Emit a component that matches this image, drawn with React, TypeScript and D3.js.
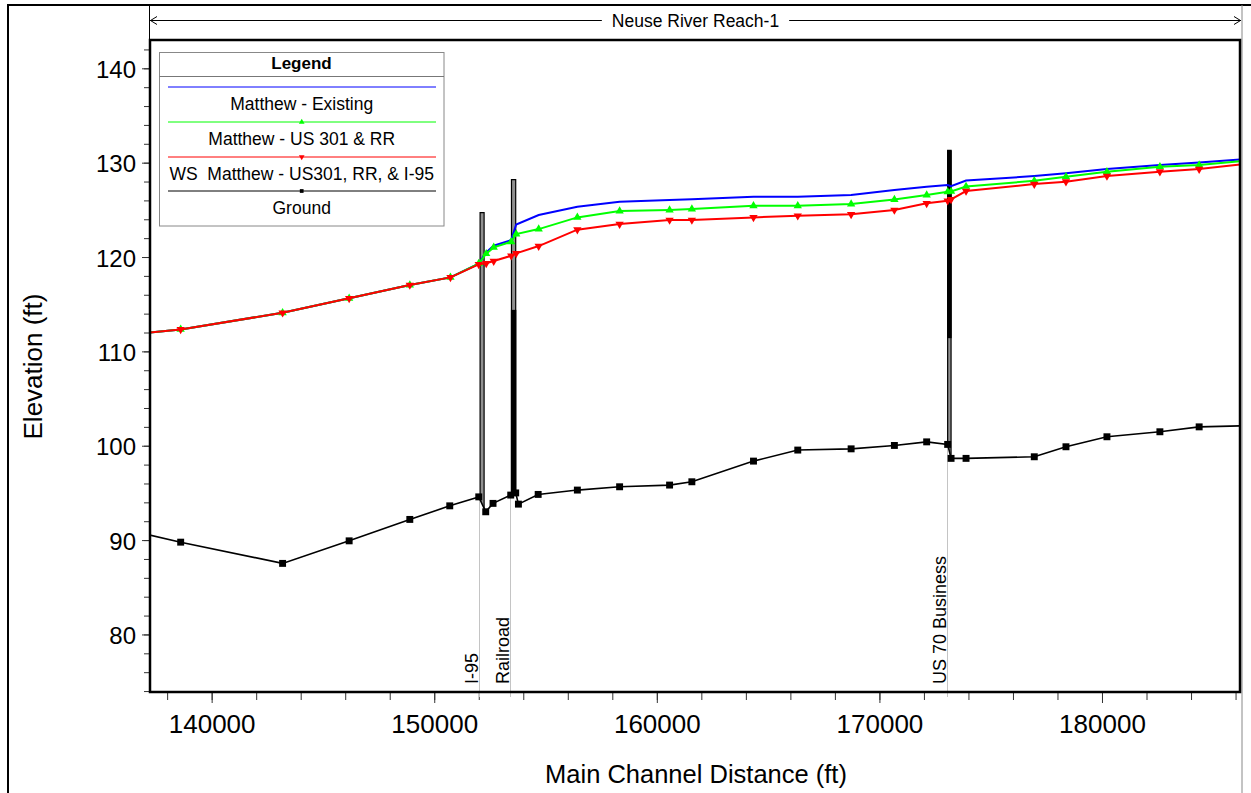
import React, { useEffect, useRef } from "react";
import * as d3 from "d3";

const WIDTH = 1251;
const HEIGHT = 793;

// Axis setup
const xDomain = [137230, 186200];
const yDomain = [73.9, 143.0];
const xMajorTicks = [140000, 150000, 160000, 170000, 180000];
const xMinorTicks = d3.range(138000, 186001, 2000);
const yMajorTicks = [80, 90, 100, 110, 120, 130, 140];
const yMinorTicks = d3.range(74, 143, 2);

// Water surface profiles (cross-section stations, ft)
const wsStation = [137000, 138608, 143187, 146177, 148902, 150728, 151999, 152335, 152672, 153458, 153682, 154692, 156429, 158328, 160573, 161574, 164343, 166332, 168729, 170673, 172123, 173066, 173219, 173892, 176958, 178381, 180222, 182601, 184365, 186400];
const existingWS = [111.96, 112.33, 114.09, 115.62, 117.03, 117.84, 119.3, 120.5, 121.2, 121.8, 123.45, 124.45, 125.33, 125.86, 126.04, 126.12, 126.39, 126.39, 126.57, 127.1, 127.45, 127.63, 127.5, 128.1, 128.58, 128.87, 129.32, 129.75, 130.03, 130.38];
const us301WS = [111.96, 112.33, 114.09, 115.62, 117.03, 117.84, 119.3, 120.35, 121.02, 121.62, 122.43, 122.96, 124.2, 124.87, 124.98, 125.08, 125.43, 125.43, 125.61, 126.09, 126.57, 126.92, 126.95, 127.48, 128.08, 128.51, 129.04, 129.57, 129.75, 130.2];
const i95WS = [111.96, 112.33, 114.09, 115.62, 117.03, 117.84, 119.22, 119.33, 119.57, 120.13, 120.39, 121.16, 122.9, 123.49, 123.92, 123.92, 124.2, 124.37, 124.52, 124.98, 125.69, 125.96, 126.11, 126.99, 127.73, 127.98, 128.58, 129.04, 129.32, 129.86];

// Ground profile
const groundStation = [137000, 138608, 143187, 146177, 148902, 150697, 152000, 152313, 152641, 153436, 153660, 153782, 154669, 156430, 158328, 160573, 161574, 164343, 166332, 168729, 170673, 172123, 173066, 173219, 173892, 176958, 178381, 180222, 182601, 184365, 186400];
const groundElev = [90.65, 89.78, 87.53, 89.92, 92.19, 93.63, 94.58, 93.0, 93.89, 94.77, 95.0, 93.81, 94.84, 95.3, 95.65, 95.83, 96.18, 98.37, 99.54, 99.67, 100.03, 100.41, 100.14, 98.66, 98.66, 98.83, 99.89, 100.95, 101.48, 102.0, 102.12];

// Bridges
const bridgeNames = ["I-95", "Railroad", "US 70 Business"];
const bridgeLeft = [152060, 153470, 173066];
const bridgeRight = [152240, 153660, 173219];
const bridgeTop = [124.7, 128.2, 131.3];
const bridgeSolidTop = [null, 114.4, 131.3];
const bridgeSolidBottom = [null, 94.8, 111.4];
const bridgeMarkStation = [152000, 153420, 173040];

const legendLabels = ["Matthew - Existing", "Matthew - US 301 & RR", "WS  Matthew - US301, RR, & I-95", "Ground"];
const legendColors = ["#0000ff", "#00ff00", "#ff0000", "#000000"];
const titleText = "Neuse River Reach-1";
const xTitle = "Main Channel Distance (ft)";
const yTitle = "Elevation (ft)";

const FONT = "'Liberation Sans', Arial, Helvetica, sans-serif";

export default function App() {
  const ref = useRef<SVGSVGElement>(null);

  useEffect(() => {
    const svg = d3.select(ref.current);
    svg.selectAll("*").remove();
    const plot = { left: 150, top: 40, right: 1240, bottom: 692 };
    const x = d3.scaleLinear().domain(xDomain).range([plot.left, plot.right]);
    const y = d3.scaleLinear().domain(yDomain).range([plot.bottom, plot.top]);
    const groundAt = d3.scaleLinear().domain(groundStation).range(groundElev);

    svg.append("rect").attr("width", WIDTH).attr("height", HEIGHT).attr("fill", "#fff");

    // outer frame
    svg.append("rect").attr("x", 8).attr("y", 5).attr("width", 1400).attr("height", 1000)
      .attr("fill", "none").attr("stroke", "#000").attr("stroke-width", 2);
    svg.append("line").attr("x1", 1242).attr("x2", 1242).attr("y1", 5).attr("y2", HEIGHT)
      .attr("stroke", "#888").attr("stroke-width", 1);
    svg.append("line").attr("x1", 149.5).attr("x2", 149.5).attr("y1", 5).attr("y2", 40)
      .attr("stroke", "#000").attr("stroke-width", 1);

    // title bar
    const tY = 20.5;
    const title = svg.append("text").attr("x", (150 + 1241) / 2).attr("y", tY + 6)
      .attr("text-anchor", "middle").attr("font-family", FONT).attr("font-size", 17.5)
      .attr("fill", "#000").text(titleText);
    const tw = (title.node() as SVGTextElement).getComputedTextLength();
    const cx = (150 + 1241) / 2;
    svg.append("line").attr("x1", 150).attr("x2", cx - tw / 2 - 10).attr("y1", tY).attr("y2", tY).attr("stroke", "#000");
    svg.append("line").attr("x1", cx + tw / 2 + 10).attr("x2", 1241).attr("y1", tY).attr("y2", tY).attr("stroke", "#000");
    svg.append("path").attr("d", `M157,16.5L150.5,${tY}L157,24.5`).attr("fill", "none").attr("stroke", "#000");
    svg.append("path").attr("d", `M1234,16.5L1240.5,${tY}L1234,24.5`).attr("fill", "none").attr("stroke", "#000");

    // axes
    const axG = svg.append("g");
    const xMinor = axG.append("g").attr("transform", `translate(0,${plot.bottom})`)
      .call(d3.axisBottom(x).tickValues(xMinorTicks).tickSize(8).tickFormat(() => ""));
    const xMajor = axG.append("g").attr("transform", `translate(0,${plot.bottom})`)
      .call(d3.axisBottom(x).tickValues(xMajorTicks).tickSize(11).tickPadding(11.5).tickFormat(d3.format("d")));
    const yMinor = axG.append("g").attr("transform", `translate(${plot.left},0)`)
      .call(d3.axisLeft(y).tickValues(yMinorTicks).tickSize(6).tickFormat(() => ""));
    const yMajor = axG.append("g").attr("transform", `translate(${plot.left},0)`)
      .call(d3.axisLeft(y).tickValues(yMajorTicks).tickSize(8).tickPadding(6).tickFormat(d3.format("d")));
    [xMinor, xMajor, yMinor, yMajor].forEach((g) => {
      g.select(".domain").remove();
      g.selectAll(".tick line").attr("stroke", "#333");
    });
    xMajor.selectAll("text").attr("font-family", FONT).attr("font-size", 26).attr("fill", "#000");
    yMajor.selectAll("text").attr("font-family", FONT).attr("font-size", 24).attr("fill", "#000").attr("dy", "0.38em");

    // axis titles
    svg.append("text").attr("x", 696).attr("y", 783).attr("text-anchor", "middle")
      .attr("font-family", FONT).attr("font-size", 25.5).attr("fill", "#000").text(xTitle);
    svg.append("text").attr("transform", `translate(41.5,366.5) rotate(-90)`).attr("text-anchor", "middle")
      .attr("font-family", FONT).attr("font-size", 26).attr("fill", "#000").text(yTitle);

    // clip
    svg.append("clipPath").attr("id", "plotClip").append("rect")
      .attr("x", plot.left).attr("y", plot.top).attr("width", plot.right - plot.left).attr("height", plot.bottom - plot.top);

    // bridge location lines and labels
    bridgeMarkStation.forEach((s, i) => {
      const px = Math.round(x(s)) + 0.5;
      svg.append("line").attr("x1", px).attr("x2", px).attr("y1", y(groundAt(s))).attr("y2", plot.bottom + 5)
        .attr("stroke", "#c4c4c4").attr("stroke-width", 1);
      svg.append("text").attr("transform", `translate(${px - 2},684) rotate(-90)`)
        .attr("font-family", FONT).attr("font-size", 18).attr("fill", "#000").text(bridgeNames[i]);
    });

    const data = svg.append("g").attr("clip-path", "url(#plotClip)");

    // bridges
    bridgeNames.forEach((_, i) => {
      const xl = x(bridgeLeft[i]);
      const xr = x(bridgeRight[i]);
      const gl = y(groundAt(bridgeLeft[i]));
      const gr = y(groundAt(bridgeRight[i]));
      const top = y(bridgeTop[i]);
      data.append("path").attr("d", `M${xl},${gl}L${xl},${top}L${xr},${top}L${xr},${gr}`)
        .attr("fill", "#909090").attr("stroke", "#000").attr("stroke-width", 1.2);
      const st = bridgeSolidTop[i];
      const sb = bridgeSolidBottom[i];
      if (st !== null && sb !== null) {
        data.append("rect").attr("x", xl - 0.6).attr("width", xr - xl + 1.2)
          .attr("y", y(st)).attr("height", y(sb) - y(st)).attr("fill", "#000");
      }
    });

    // ground
    const groundPts = groundStation.map((s, i) => [s, groundElev[i]] as [number, number]);
    const line = d3.line<[number, number]>().x((d) => x(d[0])).y((d) => y(d[1]));
    data.append("path").attr("d", line(groundPts)).attr("fill", "none").attr("stroke", "#000").attr("stroke-width", 1.6);
    data.selectAll(".gm").data(groundPts).join("path")
      .attr("transform", (d) => `translate(${x(d[0])},${y(d[1])})`)
      .attr("d", d3.symbol(d3.symbolSquare, 48)()).attr("fill", "#000");

    // water surfaces
    const ptsOf = (vals: number[]) => wsStation.map((s, i) => [s, vals[i]] as [number, number]);
    data.append("path").attr("d", line(ptsOf(existingWS))).attr("fill", "none").attr("stroke", "#0000ff").attr("stroke-width", 2);
    data.append("path").attr("d", line(ptsOf(us301WS))).attr("fill", "none").attr("stroke", "#00ff00").attr("stroke-width", 2);
    data.selectAll(".gr").data(ptsOf(us301WS)).join("path")
      .attr("transform", (d) => `translate(${x(d[0])},${y(d[1])})`)
      .attr("d", d3.symbol(d3.symbolTriangle, 30)()).attr("fill", "#00ff00");
    data.append("path").attr("d", line(ptsOf(i95WS))).attr("fill", "none").attr("stroke", "#ff0000").attr("stroke-width", 2);
    data.selectAll(".rd").data(ptsOf(i95WS)).join("path")
      .attr("transform", (d) => `translate(${x(d[0])},${y(d[1])}) rotate(180)`)
      .attr("d", d3.symbol(d3.symbolTriangle, 30)()).attr("fill", "#ff0000");

    // plot border
    svg.append("rect").attr("x", plot.left).attr("y", plot.top).attr("width", plot.right - plot.left)
      .attr("height", plot.bottom - plot.top).attr("fill", "none").attr("stroke", "#000").attr("stroke-width", 2.5);

    // legend
    const lg = svg.append("g");
    lg.append("rect").attr("x", 159.5).attr("y", 52.5).attr("width", 284.5).attr("height", 173.5)
      .attr("fill", "#fff").attr("stroke", "#888").attr("stroke-width", 1);
    lg.append("text").attr("x", 301.5).attr("y", 68.5).attr("text-anchor", "middle").attr("font-family", FONT)
      .attr("font-weight", "bold").attr("font-size", 17).attr("fill", "#000").text("Legend");
    lg.append("line").attr("x1", 159.5).attr("x2", 444).attr("y1", 76.5).attr("y2", 76.5).attr("stroke", "#777");
    legendLabels.forEach((lab, i) => {
      const ly = Math.round(87.3 + i * 34.7);
      lg.append("line").attr("x1", 168).attr("x2", 436).attr("y1", ly).attr("y2", ly)
        .attr("stroke", legendColors[i]).attr("stroke-width", 1);
      if (i === 1) lg.append("path").attr("transform", `translate(301.7,${ly})`).attr("d", d3.symbol(d3.symbolTriangle, 14)()).attr("fill", legendColors[i]);
      if (i === 2) lg.append("path").attr("transform", `translate(301.7,${ly}) rotate(180)`).attr("d", d3.symbol(d3.symbolTriangle, 14)()).attr("fill", legendColors[i]);
      if (i === 3) lg.append("path").attr("transform", `translate(301.7,${ly})`).attr("d", d3.symbol(d3.symbolSquare, 14)()).attr("fill", legendColors[i]);
      lg.append("text").attr("x", 301.7).attr("y", ly + 23).attr("text-anchor", "middle").attr("font-family", FONT)
        .attr("font-size", 17.5).attr("fill", "#000").attr("xml:space", "preserve").style("white-space", "pre").text(lab);
    });
  }, []);

  return (
    <svg ref={ref} width={WIDTH} height={HEIGHT} style={{ position: "absolute", left: 0, top: 0, background: "#fff" }} />
  );
}
